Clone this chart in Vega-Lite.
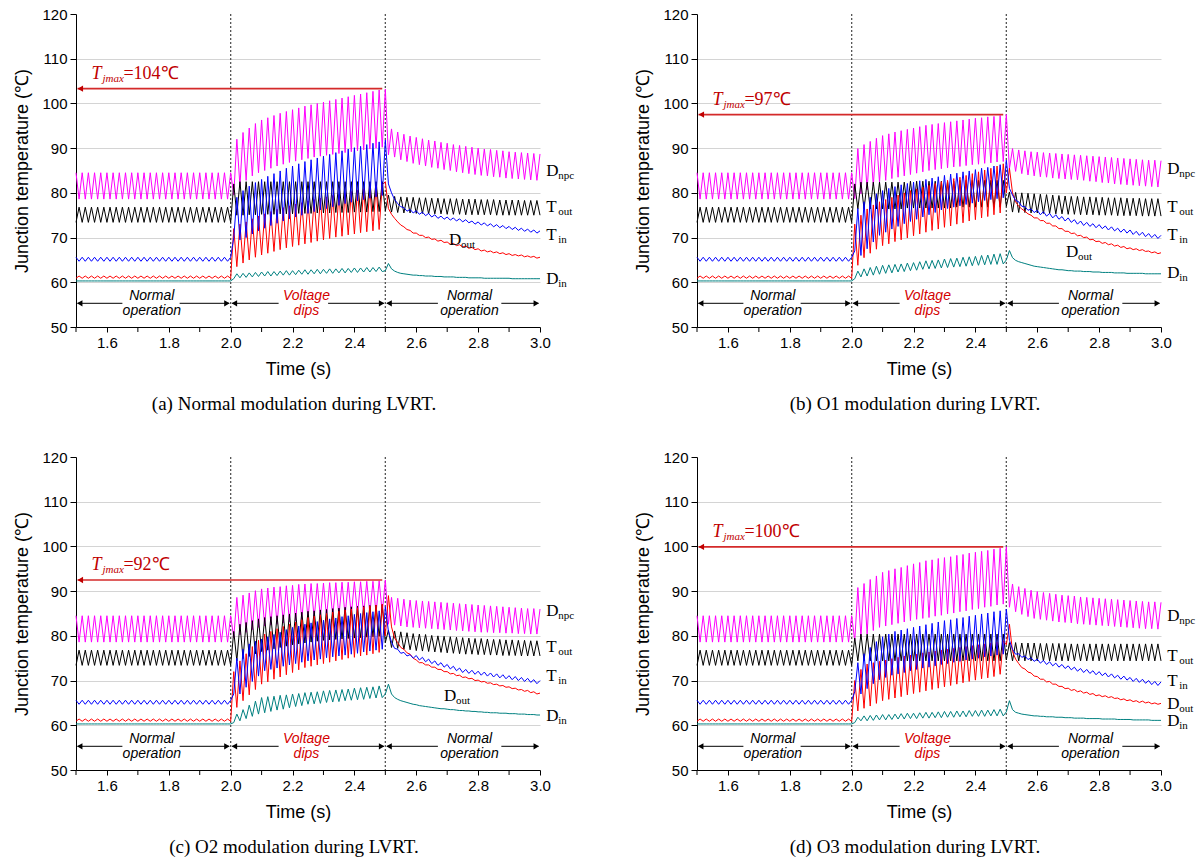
{
"$schema":"https://vega.github.io/schema/vega-lite/v6.json",
"background":"white",
"padding":{"left":13,"top":7,"right":5,"bottom":5},
"config":{"view":{"stroke":null},
"axis":{"labelFont":"Liberation Sans","labelFontSize":15,"labelColor":"#000","titleFont":"Liberation Sans","titleFontSize":18,"titleFontWeight":"normal","titleColor":"#000","domainColor":"#000","tickColor":"#000","grid":false},
"axisX":{"labelOverlap":false,"labelFlush":false}},
"datasets":{
"normal":[
{"t":1.50,"Dnpc":84.5,"Tout":73.4,"Tin":65.6,"Dout":60.9,"Din":60.3},{"t":1.51,"Dnpc":78.6,"Tout":76.8,"Tin":64.7,"Dout":61.4,"Din":60.3},
{"t":1.52,"Dnpc":84.5,"Tout":73.4,"Tin":65.6,"Dout":60.9,"Din":60.3},{"t":1.53,"Dnpc":78.6,"Tout":76.8,"Tin":64.7,"Dout":61.4,"Din":60.3},
{"t":1.54,"Dnpc":84.5,"Tout":73.4,"Tin":65.6,"Dout":60.9,"Din":60.3},{"t":1.55,"Dnpc":78.6,"Tout":76.8,"Tin":64.7,"Dout":61.4,"Din":60.3},
{"t":1.56,"Dnpc":84.5,"Tout":73.4,"Tin":65.6,"Dout":60.9,"Din":60.3},{"t":1.57,"Dnpc":78.6,"Tout":76.8,"Tin":64.7,"Dout":61.4,"Din":60.3},
{"t":1.58,"Dnpc":84.5,"Tout":73.4,"Tin":65.6,"Dout":60.9,"Din":60.3},{"t":1.59,"Dnpc":78.6,"Tout":76.8,"Tin":64.7,"Dout":61.4,"Din":60.3},
{"t":1.60,"Dnpc":84.5,"Tout":73.4,"Tin":65.6,"Dout":60.9,"Din":60.3},{"t":1.61,"Dnpc":78.6,"Tout":76.8,"Tin":64.7,"Dout":61.4,"Din":60.3},
{"t":1.62,"Dnpc":84.5,"Tout":73.4,"Tin":65.6,"Dout":60.9,"Din":60.3},{"t":1.63,"Dnpc":78.6,"Tout":76.8,"Tin":64.7,"Dout":61.4,"Din":60.3},
{"t":1.64,"Dnpc":84.5,"Tout":73.4,"Tin":65.6,"Dout":60.9,"Din":60.3},{"t":1.65,"Dnpc":78.6,"Tout":76.8,"Tin":64.7,"Dout":61.4,"Din":60.3},
{"t":1.66,"Dnpc":84.5,"Tout":73.4,"Tin":65.6,"Dout":60.9,"Din":60.3},{"t":1.67,"Dnpc":78.6,"Tout":76.8,"Tin":64.7,"Dout":61.4,"Din":60.3},
{"t":1.68,"Dnpc":84.5,"Tout":73.4,"Tin":65.6,"Dout":60.9,"Din":60.3},{"t":1.69,"Dnpc":78.6,"Tout":76.8,"Tin":64.7,"Dout":61.4,"Din":60.3},
{"t":1.70,"Dnpc":84.5,"Tout":73.4,"Tin":65.6,"Dout":60.9,"Din":60.3},{"t":1.71,"Dnpc":78.6,"Tout":76.8,"Tin":64.7,"Dout":61.4,"Din":60.3},
{"t":1.72,"Dnpc":84.5,"Tout":73.4,"Tin":65.6,"Dout":60.9,"Din":60.3},{"t":1.73,"Dnpc":78.6,"Tout":76.8,"Tin":64.7,"Dout":61.4,"Din":60.3},
{"t":1.74,"Dnpc":84.5,"Tout":73.4,"Tin":65.6,"Dout":60.9,"Din":60.3},{"t":1.75,"Dnpc":78.6,"Tout":76.8,"Tin":64.7,"Dout":61.4,"Din":60.3},
{"t":1.76,"Dnpc":84.5,"Tout":73.4,"Tin":65.6,"Dout":60.9,"Din":60.3},{"t":1.77,"Dnpc":78.6,"Tout":76.8,"Tin":64.7,"Dout":61.4,"Din":60.3},
{"t":1.78,"Dnpc":84.5,"Tout":73.4,"Tin":65.6,"Dout":60.9,"Din":60.3},{"t":1.79,"Dnpc":78.6,"Tout":76.8,"Tin":64.7,"Dout":61.4,"Din":60.3},
{"t":1.80,"Dnpc":84.5,"Tout":73.4,"Tin":65.6,"Dout":60.9,"Din":60.3},{"t":1.81,"Dnpc":78.6,"Tout":76.8,"Tin":64.7,"Dout":61.4,"Din":60.3},
{"t":1.82,"Dnpc":84.5,"Tout":73.4,"Tin":65.6,"Dout":60.9,"Din":60.3},{"t":1.83,"Dnpc":78.6,"Tout":76.8,"Tin":64.7,"Dout":61.4,"Din":60.3},
{"t":1.84,"Dnpc":84.5,"Tout":73.4,"Tin":65.6,"Dout":60.9,"Din":60.3},{"t":1.85,"Dnpc":78.6,"Tout":76.8,"Tin":64.7,"Dout":61.4,"Din":60.3},
{"t":1.86,"Dnpc":84.5,"Tout":73.4,"Tin":65.6,"Dout":60.9,"Din":60.3},{"t":1.87,"Dnpc":78.6,"Tout":76.8,"Tin":64.7,"Dout":61.4,"Din":60.3},
{"t":1.88,"Dnpc":84.5,"Tout":73.4,"Tin":65.6,"Dout":60.9,"Din":60.3},{"t":1.89,"Dnpc":78.6,"Tout":76.8,"Tin":64.7,"Dout":61.4,"Din":60.3},
{"t":1.90,"Dnpc":84.5,"Tout":73.4,"Tin":65.6,"Dout":60.9,"Din":60.3},{"t":1.91,"Dnpc":78.6,"Tout":76.8,"Tin":64.7,"Dout":61.4,"Din":60.3},
{"t":1.92,"Dnpc":84.5,"Tout":73.4,"Tin":65.6,"Dout":60.9,"Din":60.3},{"t":1.93,"Dnpc":78.6,"Tout":76.8,"Tin":64.7,"Dout":61.4,"Din":60.3},
{"t":1.94,"Dnpc":84.5,"Tout":73.4,"Tin":65.6,"Dout":60.9,"Din":60.3},{"t":1.95,"Dnpc":78.6,"Tout":76.8,"Tin":64.7,"Dout":61.4,"Din":60.3},
{"t":1.96,"Dnpc":84.5,"Tout":73.4,"Tin":65.6,"Dout":60.9,"Din":60.3},{"t":1.97,"Dnpc":78.6,"Tout":76.8,"Tin":64.7,"Dout":61.4,"Din":60.3},
{"t":1.98,"Dnpc":84.5,"Tout":73.4,"Tin":65.6,"Dout":60.9,"Din":60.3},{"t":1.99,"Dnpc":78.6,"Tout":76.8,"Tin":64.7,"Dout":61.4,"Din":60.3},
{"t":2.00,"Dnpc":84.5,"Tout":73.4,"Tin":65.6,"Dout":60.9,"Din":60.3}],
"a":[
{"t":2.00,"Dnpc":84.5,"Tout":73.4,"Tin":65.6,"Dout":60.9,"Din":60.3},
{"t":2.01,"Dnpc":79.5,"Tout":82.0,"Tin":70.0,"Dout":72.0,"Din":60.8},
{"t":2.02,"Dnpc":92.0,"Tout":75.0,"Tin":79.0,"Dout":63.5,"Din":61.9},
{"t":2.03,"Dnpc":81.5,"Tout":82.5,"Tin":69.5,"Dout":73.0,"Din":61.0},
{"t":2.04,"Dnpc":93.5,"Tout":75.0,"Tin":80.5,"Dout":64.3,"Din":62.0},
{"t":2.05,"Dnpc":82.8,"Tout":82.5,"Tin":70.0,"Dout":73.5,"Din":61.1},
{"t":2.06,"Dnpc":94.5,"Tout":75.1,"Tin":81.5,"Dout":65.0,"Din":62.1},
{"t":2.07,"Dnpc":83.8,"Tout":82.5,"Tin":70.8,"Dout":74.2,"Din":61.2},
{"t":2.08,"Dnpc":95.5,"Tout":75.1,"Tin":82.3,"Dout":65.6,"Din":62.2},
{"t":2.09,"Dnpc":84.5,"Tout":82.5,"Tin":71.5,"Dout":74.8,"Din":61.3},
{"t":2.10,"Dnpc":96.3,"Tout":75.2,"Tin":83.0,"Dout":66.1,"Din":62.3},
{"t":2.11,"Dnpc":85.0,"Tout":82.5,"Tin":72.1,"Dout":75.3,"Din":61.4},
{"t":2.12,"Dnpc":96.8,"Tout":75.2,"Tin":83.7,"Dout":66.5,"Din":62.4},
{"t":2.13,"Dnpc":85.5,"Tout":82.5,"Tin":72.7,"Dout":75.8,"Din":61.4},
{"t":2.14,"Dnpc":97.3,"Tout":75.2,"Tin":84.3,"Dout":66.9,"Din":62.4},
{"t":2.15,"Dnpc":86.0,"Tout":82.5,"Tin":73.2,"Dout":76.3,"Din":61.5},
{"t":2.16,"Dnpc":97.8,"Tout":75.3,"Tin":84.9,"Dout":67.3,"Din":62.5},
{"t":2.17,"Dnpc":86.4,"Tout":82.5,"Tin":73.7,"Dout":76.7,"Din":61.6},
{"t":2.18,"Dnpc":98.2,"Tout":75.3,"Tin":85.5,"Dout":67.7,"Din":62.6},
{"t":2.19,"Dnpc":86.8,"Tout":82.5,"Tin":74.2,"Dout":77.1,"Din":61.6},
{"t":2.20,"Dnpc":98.6,"Tout":75.3,"Tin":86.0,"Dout":68.0,"Din":62.6},
{"t":2.21,"Dnpc":87.1,"Tout":82.5,"Tin":74.6,"Dout":77.5,"Din":61.7},
{"t":2.22,"Dnpc":99.0,"Tout":75.4,"Tin":86.5,"Dout":68.3,"Din":62.7},
{"t":2.23,"Dnpc":87.4,"Tout":82.5,"Tin":75.0,"Dout":77.8,"Din":61.8},
{"t":2.24,"Dnpc":99.4,"Tout":75.4,"Tin":87.0,"Dout":68.6,"Din":62.8},
{"t":2.25,"Dnpc":87.7,"Tout":82.5,"Tin":75.4,"Dout":78.2,"Din":61.8},
{"t":2.26,"Dnpc":99.7,"Tout":75.4,"Tin":87.4,"Dout":68.9,"Din":62.8},
{"t":2.27,"Dnpc":88.0,"Tout":82.5,"Tin":75.8,"Dout":78.5,"Din":61.9},
{"t":2.28,"Dnpc":100.0,"Tout":75.5,"Tin":87.8,"Dout":69.2,"Din":62.9},
{"t":2.29,"Dnpc":88.2,"Tout":82.5,"Tin":76.2,"Dout":78.8,"Din":61.9},
{"t":2.30,"Dnpc":100.3,"Tout":75.5,"Tin":88.2,"Dout":69.5,"Din":62.9},
{"t":2.31,"Dnpc":88.4,"Tout":82.5,"Tin":76.5,"Dout":79.1,"Din":62.0},
{"t":2.32,"Dnpc":100.6,"Tout":75.5,"Tin":88.6,"Dout":69.8,"Din":63.0},
{"t":2.33,"Dnpc":88.6,"Tout":82.5,"Tin":76.9,"Dout":79.4,"Din":62.0},
{"t":2.34,"Dnpc":100.9,"Tout":75.6,"Tin":89.0,"Dout":70.1,"Din":63.0},
{"t":2.35,"Dnpc":88.8,"Tout":82.5,"Tin":77.2,"Dout":79.7,"Din":62.1},
{"t":2.36,"Dnpc":101.2,"Tout":75.6,"Tin":89.4,"Dout":70.3,"Din":63.1},
{"t":2.37,"Dnpc":89.0,"Tout":82.5,"Tin":77.6,"Dout":80.0,"Din":62.1},
{"t":2.38,"Dnpc":101.5,"Tout":75.6,"Tin":89.8,"Dout":70.6,"Din":63.1},
{"t":2.39,"Dnpc":89.2,"Tout":82.5,"Tin":77.9,"Dout":80.3,"Din":62.2},
{"t":2.40,"Dnpc":101.8,"Tout":75.7,"Tin":90.1,"Dout":70.8,"Din":63.2},
{"t":2.41,"Dnpc":89.4,"Tout":82.5,"Tin":78.2,"Dout":80.6,"Din":62.2},
{"t":2.42,"Dnpc":102.1,"Tout":75.7,"Tin":90.4,"Dout":71.1,"Din":63.2},
{"t":2.43,"Dnpc":89.6,"Tout":82.5,"Tin":78.5,"Dout":80.9,"Din":62.3},
{"t":2.44,"Dnpc":102.4,"Tout":75.7,"Tin":90.8,"Dout":71.3,"Din":63.3},
{"t":2.45,"Dnpc":89.8,"Tout":82.5,"Tin":78.8,"Dout":81.2,"Din":62.3},
{"t":2.46,"Dnpc":102.7,"Tout":75.8,"Tin":91.1,"Dout":71.5,"Din":63.3},
{"t":2.47,"Dnpc":90.0,"Tout":82.5,"Tin":79.1,"Dout":81.5,"Din":62.4},
{"t":2.48,"Dnpc":103.0,"Tout":75.8,"Tin":91.4,"Dout":71.8,"Din":63.4},
{"t":2.49,"Dnpc":90.2,"Tout":82.5,"Tin":79.4,"Dout":81.8,"Din":62.4},
{"t":2.50,"Dnpc":103.2,"Tout":76.0,"Tin":91.8,"Dout":82.5,"Din":62.6},
{"t":2.51,"Dnpc":88.5,"Tout":79.5,"Tin":82.0,"Dout":76.5,"Din":64.2},
{"t":2.52,"Dnpc":94.3,"Tout":75.7,"Tin":80.0,"Dout":75.2,"Din":63.0},
{"t":2.53,"Dnpc":88.0,"Tout":79.2,"Tin":78.5,"Dout":74.3,"Din":62.5},
{"t":2.54,"Dnpc":93.6,"Tout":75.6,"Tin":77.6,"Dout":73.5,"Din":62.2},
{"t":2.55,"Dnpc":87.4,"Tout":79.1,"Tin":76.9,"Dout":72.8,"Din":62.0},
{"t":2.56,"Dnpc":93.1,"Tout":75.5,"Tin":76.7,"Dout":72.4,"Din":61.9},
{"t":2.57,"Dnpc":87.0,"Tout":79.0,"Tin":75.9,"Dout":71.8,"Din":61.8},
{"t":2.58,"Dnpc":92.7,"Tout":75.5,"Tin":76.3,"Dout":71.6,"Din":61.7},
{"t":2.59,"Dnpc":86.6,"Tout":79.0,"Tin":75.5,"Dout":71.0,"Din":61.6},
{"t":2.60,"Dnpc":92.4,"Tout":75.4,"Tin":76.0,"Dout":71.0,"Din":61.6},
{"t":2.61,"Dnpc":86.3,"Tout":78.9,"Tin":75.2,"Dout":70.5,"Din":61.5},
{"t":2.62,"Dnpc":92.1,"Tout":75.4,"Tin":75.7,"Dout":70.5,"Din":61.5},
{"t":2.63,"Dnpc":86.0,"Tout":78.9,"Tin":74.9,"Dout":70.0,"Din":61.4},
{"t":2.64,"Dnpc":91.8,"Tout":75.3,"Tin":75.4,"Dout":70.1,"Din":61.4},
{"t":2.65,"Dnpc":85.7,"Tout":78.8,"Tin":74.6,"Dout":69.6,"Din":61.4},
{"t":2.66,"Dnpc":91.6,"Tout":75.3,"Tin":75.1,"Dout":69.7,"Din":61.3},
{"t":2.67,"Dnpc":85.5,"Tout":78.8,"Tin":74.3,"Dout":69.2,"Din":61.3},
{"t":2.68,"Dnpc":91.3,"Tout":75.3,"Tin":74.8,"Dout":69.4,"Din":61.3},
{"t":2.69,"Dnpc":85.2,"Tout":78.7,"Tin":74.1,"Dout":68.9,"Din":61.2},
{"t":2.70,"Dnpc":91.1,"Tout":75.2,"Tin":74.6,"Dout":69.0,"Din":61.2},
{"t":2.71,"Dnpc":85.0,"Tout":78.7,"Tin":73.9,"Dout":68.5,"Din":61.2},
{"t":2.72,"Dnpc":90.8,"Tout":75.2,"Tin":74.4,"Dout":68.7,"Din":61.2},
{"t":2.73,"Dnpc":84.7,"Tout":78.7,"Tin":73.7,"Dout":68.2,"Din":61.1},
{"t":2.74,"Dnpc":90.6,"Tout":75.2,"Tin":74.2,"Dout":68.4,"Din":61.1},
{"t":2.75,"Dnpc":84.5,"Tout":78.6,"Tin":73.5,"Dout":67.9,"Din":61.1},
{"t":2.76,"Dnpc":90.4,"Tout":75.1,"Tin":74.0,"Dout":68.1,"Din":61.1},
{"t":2.77,"Dnpc":84.3,"Tout":78.6,"Tin":73.3,"Dout":67.6,"Din":61.0},
{"t":2.78,"Dnpc":90.2,"Tout":75.1,"Tin":73.7,"Dout":67.8,"Din":61.0},
{"t":2.79,"Dnpc":84.1,"Tout":78.6,"Tin":73.0,"Dout":67.3,"Din":61.0},
{"t":2.80,"Dnpc":90.0,"Tout":75.1,"Tin":73.5,"Dout":67.5,"Din":61.0},
{"t":2.81,"Dnpc":83.9,"Tout":78.5,"Tin":72.8,"Dout":67.0,"Din":61.0},
{"t":2.82,"Dnpc":89.8,"Tout":75.1,"Tin":73.3,"Dout":67.2,"Din":60.9},
{"t":2.83,"Dnpc":83.8,"Tout":78.5,"Tin":72.6,"Dout":66.8,"Din":60.9},
{"t":2.84,"Dnpc":89.7,"Tout":75.1,"Tin":73.1,"Dout":67.0,"Din":60.9},
{"t":2.85,"Dnpc":83.6,"Tout":78.5,"Tin":72.4,"Dout":66.6,"Din":60.9},
{"t":2.86,"Dnpc":89.5,"Tout":75.0,"Tin":72.9,"Dout":66.8,"Din":60.9},
{"t":2.87,"Dnpc":83.5,"Tout":78.4,"Tin":72.2,"Dout":66.4,"Din":60.9},
{"t":2.88,"Dnpc":89.4,"Tout":75.0,"Tin":72.7,"Dout":66.6,"Din":60.9},
{"t":2.89,"Dnpc":83.3,"Tout":78.4,"Tin":72.0,"Dout":66.2,"Din":60.9},
{"t":2.90,"Dnpc":89.2,"Tout":75.0,"Tin":72.5,"Dout":66.4,"Din":60.9},
{"t":2.91,"Dnpc":83.2,"Tout":78.4,"Tin":71.8,"Dout":66.0,"Din":60.8},
{"t":2.92,"Dnpc":89.1,"Tout":75.0,"Tin":72.3,"Dout":66.2,"Din":60.8},
{"t":2.93,"Dnpc":83.1,"Tout":78.4,"Tin":71.6,"Dout":65.9,"Din":60.8},
{"t":2.94,"Dnpc":89.0,"Tout":75.0,"Tin":72.1,"Dout":66.1,"Din":60.8},
{"t":2.95,"Dnpc":83.0,"Tout":78.3,"Tin":71.4,"Dout":65.7,"Din":60.8},
{"t":2.96,"Dnpc":88.9,"Tout":75.0,"Tin":71.9,"Dout":65.9,"Din":60.8},
{"t":2.97,"Dnpc":82.9,"Tout":78.3,"Tin":71.2,"Dout":65.6,"Din":60.8},
{"t":2.98,"Dnpc":88.8,"Tout":75.0,"Tin":71.7,"Dout":65.8,"Din":60.8},
{"t":2.99,"Dnpc":82.8,"Tout":78.3,"Tin":71.0,"Dout":65.4,"Din":60.8},
{"t":3.00,"Dnpc":88.7,"Tout":75.0,"Tin":71.5,"Dout":65.6,"Din":60.8}],
"b":[
{"t":2.00,"Dnpc":84.5,"Tout":73.4,"Tin":65.6,"Dout":60.9,"Din":60.3},
{"t":2.01,"Dnpc":78.7,"Tout":82.0,"Tin":67.0,"Dout":73.0,"Din":60.8},
{"t":2.02,"Dnpc":89.9,"Tout":76.4,"Tin":76.5,"Dout":63.8,"Din":62.5},
{"t":2.03,"Dnpc":79.8,"Tout":82.4,"Tin":66.0,"Dout":75.0,"Din":61.2},
{"t":2.04,"Dnpc":90.8,"Tout":76.4,"Tin":78.0,"Dout":65.5,"Din":63.0},
{"t":2.05,"Dnpc":80.7,"Tout":82.4,"Tin":67.5,"Dout":76.4,"Din":61.4},
{"t":2.06,"Dnpc":91.5,"Tout":76.4,"Tin":79.0,"Dout":66.5,"Din":63.3},
{"t":2.07,"Dnpc":81.6,"Tout":82.4,"Tin":69.0,"Dout":77.3,"Din":61.6},
{"t":2.08,"Dnpc":92.2,"Tout":76.4,"Tin":79.8,"Dout":67.4,"Din":63.6},
{"t":2.09,"Dnpc":82.4,"Tout":82.4,"Tin":70.5,"Dout":78.0,"Din":61.8},
{"t":2.10,"Dnpc":92.8,"Tout":76.4,"Tin":80.5,"Dout":68.2,"Din":63.8},
{"t":2.11,"Dnpc":82.8,"Tout":82.4,"Tin":71.2,"Dout":78.5,"Din":62.0},
{"t":2.12,"Dnpc":93.2,"Tout":76.4,"Tin":81.0,"Dout":68.6,"Din":63.9},
{"t":2.13,"Dnpc":83.2,"Tout":82.4,"Tin":71.9,"Dout":79.0,"Din":62.1},
{"t":2.14,"Dnpc":93.6,"Tout":76.4,"Tin":81.4,"Dout":69.1,"Din":64.0},
{"t":2.15,"Dnpc":83.5,"Tout":82.4,"Tin":72.5,"Dout":79.5,"Din":62.3},
{"t":2.16,"Dnpc":93.9,"Tout":76.4,"Tin":81.8,"Dout":69.5,"Din":64.1},
{"t":2.17,"Dnpc":83.8,"Tout":82.4,"Tin":73.1,"Dout":80.0,"Din":62.4},
{"t":2.18,"Dnpc":94.2,"Tout":76.6,"Tin":82.1,"Dout":69.9,"Din":64.3},
{"t":2.19,"Dnpc":84.1,"Tout":82.6,"Tin":73.6,"Dout":80.5,"Din":62.6},
{"t":2.20,"Dnpc":94.5,"Tout":76.6,"Tin":82.4,"Dout":70.4,"Din":64.4},
{"t":2.21,"Dnpc":84.4,"Tout":82.6,"Tin":74.1,"Dout":80.9,"Din":62.7},
{"t":2.22,"Dnpc":94.8,"Tout":76.6,"Tin":82.7,"Dout":70.8,"Din":64.6},
{"t":2.23,"Dnpc":84.7,"Tout":82.6,"Tin":74.6,"Dout":81.3,"Din":62.9},
{"t":2.24,"Dnpc":95.1,"Tout":76.6,"Tin":83.0,"Dout":71.2,"Din":64.8},
{"t":2.25,"Dnpc":85.0,"Tout":82.6,"Tin":75.1,"Dout":81.7,"Din":63.0},
{"t":2.26,"Dnpc":95.3,"Tout":76.6,"Tin":83.3,"Dout":71.6,"Din":64.9},
{"t":2.27,"Dnpc":85.2,"Tout":82.6,"Tin":75.6,"Dout":82.1,"Din":63.1},
{"t":2.28,"Dnpc":95.5,"Tout":76.6,"Tin":83.6,"Dout":71.9,"Din":65.0},
{"t":2.29,"Dnpc":85.4,"Tout":82.6,"Tin":76.2,"Dout":82.5,"Din":63.2},
{"t":2.30,"Dnpc":95.7,"Tout":76.6,"Tin":83.9,"Dout":72.3,"Din":65.2},
{"t":2.31,"Dnpc":85.6,"Tout":82.6,"Tin":76.5,"Dout":82.8,"Din":63.3},
{"t":2.32,"Dnpc":95.9,"Tout":76.6,"Tin":84.2,"Dout":72.6,"Din":65.3},
{"t":2.33,"Dnpc":85.8,"Tout":82.6,"Tin":76.8,"Dout":83.2,"Din":63.4},
{"t":2.34,"Dnpc":96.1,"Tout":76.8,"Tin":84.4,"Dout":73.0,"Din":65.4},
{"t":2.35,"Dnpc":85.9,"Tout":82.8,"Tin":77.1,"Dout":83.5,"Din":63.5},
{"t":2.36,"Dnpc":96.3,"Tout":76.8,"Tin":84.7,"Dout":73.3,"Din":65.6},
{"t":2.37,"Dnpc":86.1,"Tout":82.8,"Tin":77.4,"Dout":83.9,"Din":63.6},
{"t":2.38,"Dnpc":96.5,"Tout":76.8,"Tin":84.9,"Dout":73.7,"Din":65.7},
{"t":2.39,"Dnpc":86.3,"Tout":82.8,"Tin":77.7,"Dout":84.3,"Din":63.7},
{"t":2.40,"Dnpc":96.7,"Tout":76.8,"Tin":85.2,"Dout":74.0,"Din":65.8},
{"t":2.41,"Dnpc":86.4,"Tout":82.8,"Tin":78.0,"Dout":84.7,"Din":63.8},
{"t":2.42,"Dnpc":96.8,"Tout":76.8,"Tin":85.5,"Dout":74.4,"Din":66.0},
{"t":2.43,"Dnpc":86.6,"Tout":82.8,"Tin":78.3,"Dout":85.1,"Din":63.9},
{"t":2.44,"Dnpc":97.0,"Tout":76.8,"Tin":85.7,"Dout":74.7,"Din":66.1},
{"t":2.45,"Dnpc":86.7,"Tout":82.8,"Tin":78.5,"Dout":85.5,"Din":64.0},
{"t":2.46,"Dnpc":97.1,"Tout":76.8,"Tin":86.0,"Dout":75.1,"Din":66.3},
{"t":2.47,"Dnpc":86.9,"Tout":82.8,"Tin":78.7,"Dout":86.0,"Din":64.0},
{"t":2.48,"Dnpc":97.3,"Tout":76.8,"Tin":86.3,"Dout":75.5,"Din":66.4},
{"t":2.49,"Dnpc":87.0,"Tout":82.8,"Tin":78.9,"Dout":86.5,"Din":64.1},
{"t":2.50,"Dnpc":97.5,"Tout":77.0,"Tin":87.3,"Dout":80.0,"Din":65.0},
{"t":2.51,"Dnpc":85.4,"Tout":80.2,"Tin":81.0,"Dout":85.5,"Din":67.1},
{"t":2.52,"Dnpc":89.9,"Tout":75.7,"Tin":79.5,"Dout":80.0,"Din":65.5},
{"t":2.53,"Dnpc":84.8,"Tout":80.1,"Tin":78.3,"Dout":78.0,"Din":64.9},
{"t":2.54,"Dnpc":89.6,"Tout":75.6,"Tin":78.0,"Dout":77.0,"Din":64.6},
{"t":2.55,"Dnpc":84.3,"Tout":80.0,"Tin":77.0,"Dout":76.4,"Din":64.4},
{"t":2.56,"Dnpc":89.4,"Tout":75.6,"Tin":76.9,"Dout":75.9,"Din":64.2},
{"t":2.57,"Dnpc":84.0,"Tout":79.9,"Tin":76.1,"Dout":75.3,"Din":64.0},
{"t":2.58,"Dnpc":89.2,"Tout":75.5,"Tin":76.4,"Dout":75.0,"Din":63.8},
{"t":2.59,"Dnpc":83.8,"Tout":79.8,"Tin":75.6,"Dout":74.4,"Din":63.6},
{"t":2.60,"Dnpc":89.1,"Tout":75.5,"Tin":76.1,"Dout":74.4,"Din":63.5},
{"t":2.61,"Dnpc":83.6,"Tout":79.7,"Tin":75.1,"Dout":73.8,"Din":63.4},
{"t":2.62,"Dnpc":89.0,"Tout":75.4,"Tin":75.8,"Dout":73.8,"Din":63.3},
{"t":2.63,"Dnpc":83.5,"Tout":79.6,"Tin":74.8,"Dout":73.2,"Din":63.2},
{"t":2.64,"Dnpc":88.9,"Tout":75.4,"Tin":75.4,"Dout":73.2,"Din":63.1},
{"t":2.65,"Dnpc":83.3,"Tout":79.5,"Tin":74.4,"Dout":72.6,"Din":63.0},
{"t":2.66,"Dnpc":88.8,"Tout":75.3,"Tin":75.1,"Dout":72.6,"Din":62.9},
{"t":2.67,"Dnpc":83.2,"Tout":79.4,"Tin":74.1,"Dout":72.0,"Din":62.8},
{"t":2.68,"Dnpc":88.7,"Tout":75.3,"Tin":74.7,"Dout":72.0,"Din":62.8},
{"t":2.69,"Dnpc":83.1,"Tout":79.3,"Tin":73.7,"Dout":71.4,"Din":62.7},
{"t":2.70,"Dnpc":88.6,"Tout":75.2,"Tin":74.4,"Dout":71.4,"Din":62.6},
{"t":2.71,"Dnpc":83.0,"Tout":79.2,"Tin":73.4,"Dout":70.9,"Din":62.6},
{"t":2.72,"Dnpc":88.5,"Tout":75.2,"Tin":74.0,"Dout":71.0,"Din":62.5},
{"t":2.73,"Dnpc":82.9,"Tout":79.2,"Tin":73.0,"Dout":70.4,"Din":62.5},
{"t":2.74,"Dnpc":88.4,"Tout":75.1,"Tin":73.7,"Dout":70.5,"Din":62.5},
{"t":2.75,"Dnpc":82.8,"Tout":79.1,"Tin":72.7,"Dout":70.0,"Din":62.4},
{"t":2.76,"Dnpc":88.3,"Tout":75.1,"Tin":73.4,"Dout":70.1,"Din":62.4},
{"t":2.77,"Dnpc":82.6,"Tout":79.1,"Tin":72.5,"Dout":69.5,"Din":62.4},
{"t":2.78,"Dnpc":88.2,"Tout":75.1,"Tin":73.1,"Dout":69.6,"Din":62.3},
{"t":2.79,"Dnpc":82.5,"Tout":79.0,"Tin":72.2,"Dout":69.1,"Din":62.3},
{"t":2.80,"Dnpc":88.1,"Tout":75.0,"Tin":72.9,"Dout":69.2,"Din":62.3},
{"t":2.81,"Dnpc":82.3,"Tout":79.0,"Tin":72.0,"Dout":68.7,"Din":62.2},
{"t":2.82,"Dnpc":88.0,"Tout":75.0,"Tin":72.6,"Dout":68.9,"Din":62.2},
{"t":2.83,"Dnpc":82.2,"Tout":78.9,"Tin":71.7,"Dout":68.4,"Din":62.2},
{"t":2.84,"Dnpc":87.9,"Tout":75.0,"Tin":72.4,"Dout":68.6,"Din":62.2},
{"t":2.85,"Dnpc":82.0,"Tout":78.9,"Tin":71.5,"Dout":68.1,"Din":62.1},
{"t":2.86,"Dnpc":87.8,"Tout":74.9,"Tin":72.1,"Dout":68.3,"Din":62.1},
{"t":2.87,"Dnpc":81.9,"Tout":78.9,"Tin":71.2,"Dout":67.8,"Din":62.1},
{"t":2.88,"Dnpc":87.7,"Tout":74.9,"Tin":71.9,"Dout":68.0,"Din":62.1},
{"t":2.89,"Dnpc":81.8,"Tout":78.8,"Tin":71.0,"Dout":67.5,"Din":62.0},
{"t":2.90,"Dnpc":87.6,"Tout":74.9,"Tin":71.7,"Dout":67.7,"Din":62.0},
{"t":2.91,"Dnpc":81.7,"Tout":78.8,"Tin":70.7,"Dout":67.3,"Din":62.0},
{"t":2.92,"Dnpc":87.5,"Tout":74.9,"Tin":71.4,"Dout":67.5,"Din":62.0},
{"t":2.93,"Dnpc":81.6,"Tout":78.8,"Tin":70.5,"Dout":67.1,"Din":62.0},
{"t":2.94,"Dnpc":87.4,"Tout":74.8,"Tin":71.2,"Dout":67.3,"Din":62.0},
{"t":2.95,"Dnpc":81.5,"Tout":78.7,"Tin":70.2,"Dout":66.9,"Din":61.9},
{"t":2.96,"Dnpc":87.3,"Tout":74.8,"Tin":70.9,"Dout":67.0,"Din":61.9},
{"t":2.97,"Dnpc":81.4,"Tout":78.7,"Tin":70.0,"Dout":66.6,"Din":61.9},
{"t":2.98,"Dnpc":87.3,"Tout":74.8,"Tin":70.7,"Dout":66.8,"Din":61.9},
{"t":2.99,"Dnpc":81.3,"Tout":78.7,"Tin":69.8,"Dout":66.4,"Din":61.9},
{"t":3.00,"Dnpc":87.2,"Tout":74.8,"Tin":70.5,"Dout":66.6,"Din":61.9}],
"c":[
{"t":2.00,"Dnpc":84.5,"Tout":73.4,"Tin":65.6,"Dout":60.9,"Din":60.3},
{"t":2.01,"Dnpc":79.6,"Tout":81.0,"Tin":67.0,"Dout":72.0,"Din":60.6},
{"t":2.02,"Dnpc":88.6,"Tout":74.4,"Tin":75.0,"Dout":64.0,"Din":62.5},
{"t":2.03,"Dnpc":80.2,"Tout":82.6,"Tin":67.0,"Dout":74.4,"Din":61.0},
{"t":2.04,"Dnpc":89.1,"Tout":74.9,"Tin":77.0,"Dout":65.5,"Din":63.5},
{"t":2.05,"Dnpc":80.8,"Tout":83.0,"Tin":68.5,"Dout":76.0,"Din":61.5},
{"t":2.06,"Dnpc":89.6,"Tout":75.4,"Tin":78.2,"Dout":66.8,"Din":64.5},
{"t":2.07,"Dnpc":81.4,"Tout":83.4,"Tin":69.8,"Dout":77.6,"Din":62.0},
{"t":2.08,"Dnpc":90.1,"Tout":76.0,"Tin":78.8,"Dout":68.0,"Din":65.4},
{"t":2.09,"Dnpc":81.9,"Tout":83.8,"Tin":71.0,"Dout":79.0,"Din":62.5},
{"t":2.10,"Dnpc":90.5,"Tout":76.5,"Tin":79.3,"Dout":69.2,"Din":66.2},
{"t":2.11,"Dnpc":82.2,"Tout":84.1,"Tin":72.2,"Dout":80.4,"Din":62.8},
{"t":2.12,"Dnpc":90.7,"Tout":76.8,"Tin":79.8,"Dout":69.7,"Din":66.4},
{"t":2.13,"Dnpc":82.4,"Tout":84.3,"Tin":72.5,"Dout":81.0,"Din":63.1},
{"t":2.14,"Dnpc":90.9,"Tout":77.1,"Tin":80.3,"Dout":70.3,"Din":66.5},
{"t":2.15,"Dnpc":82.6,"Tout":84.5,"Tin":72.8,"Dout":81.6,"Din":63.4},
{"t":2.16,"Dnpc":91.0,"Tout":77.4,"Tin":80.8,"Dout":70.8,"Din":66.7},
{"t":2.17,"Dnpc":82.9,"Tout":84.7,"Tin":73.2,"Dout":82.1,"Din":63.6},
{"t":2.18,"Dnpc":91.2,"Tout":77.7,"Tin":81.4,"Dout":71.3,"Din":66.8},
{"t":2.19,"Dnpc":83.1,"Tout":84.9,"Tin":73.5,"Dout":82.6,"Din":63.9},
{"t":2.20,"Dnpc":91.3,"Tout":78.0,"Tin":81.9,"Dout":71.8,"Din":67.0},
{"t":2.21,"Dnpc":83.3,"Tout":85.1,"Tin":73.8,"Dout":83.1,"Din":64.2},
{"t":2.22,"Dnpc":91.5,"Tout":78.2,"Tin":82.2,"Dout":72.4,"Din":67.1},
{"t":2.23,"Dnpc":83.6,"Tout":85.3,"Tin":74.1,"Dout":83.6,"Din":64.4},
{"t":2.24,"Dnpc":91.6,"Tout":78.4,"Tin":82.6,"Dout":72.9,"Din":67.3},
{"t":2.25,"Dnpc":83.8,"Tout":85.5,"Tin":74.4,"Dout":84.1,"Din":64.7},
{"t":2.26,"Dnpc":91.7,"Tout":78.6,"Tin":82.9,"Dout":73.2,"Din":67.4},
{"t":2.27,"Dnpc":83.9,"Tout":85.6,"Tin":74.6,"Dout":84.4,"Din":64.8},
{"t":2.28,"Dnpc":91.7,"Tout":78.8,"Tin":83.2,"Dout":73.5,"Din":67.5},
{"t":2.29,"Dnpc":84.0,"Tout":85.8,"Tin":74.8,"Dout":84.7,"Din":64.9},
{"t":2.30,"Dnpc":91.8,"Tout":79.0,"Tin":83.5,"Dout":73.8,"Din":67.7},
{"t":2.31,"Dnpc":84.2,"Tout":85.9,"Tin":75.1,"Dout":85.0,"Din":65.1},
{"t":2.32,"Dnpc":91.9,"Tout":79.1,"Tin":83.8,"Dout":74.1,"Din":67.8},
{"t":2.33,"Dnpc":84.3,"Tout":86.1,"Tin":75.3,"Dout":85.3,"Din":65.2},
{"t":2.34,"Dnpc":91.9,"Tout":79.2,"Tin":84.0,"Dout":74.4,"Din":67.9},
{"t":2.35,"Dnpc":84.4,"Tout":86.2,"Tin":75.5,"Dout":85.5,"Din":65.3},
{"t":2.36,"Dnpc":92.0,"Tout":79.3,"Tin":84.3,"Dout":74.7,"Din":68.0},
{"t":2.37,"Dnpc":84.5,"Tout":86.4,"Tin":75.7,"Dout":85.8,"Din":65.5},
{"t":2.38,"Dnpc":92.0,"Tout":79.4,"Tin":84.5,"Dout":75.0,"Din":68.1},
{"t":2.39,"Dnpc":84.6,"Tout":86.5,"Tin":75.9,"Dout":86.0,"Din":65.6},
{"t":2.40,"Dnpc":92.1,"Tout":79.5,"Tin":84.8,"Dout":75.2,"Din":68.3},
{"t":2.41,"Dnpc":84.7,"Tout":86.6,"Tin":76.1,"Dout":86.3,"Din":65.7},
{"t":2.42,"Dnpc":92.1,"Tout":79.6,"Tin":85.0,"Dout":75.5,"Din":68.4},
{"t":2.43,"Dnpc":84.8,"Tout":86.7,"Tin":76.4,"Dout":86.5,"Din":65.8},
{"t":2.44,"Dnpc":92.2,"Tout":79.7,"Tin":85.2,"Dout":75.7,"Din":68.5},
{"t":2.45,"Dnpc":84.9,"Tout":86.8,"Tin":76.6,"Dout":86.7,"Din":66.0},
{"t":2.46,"Dnpc":92.2,"Tout":79.8,"Tin":85.4,"Dout":76.0,"Din":68.6},
{"t":2.47,"Dnpc":85.1,"Tout":86.9,"Tin":76.8,"Dout":86.9,"Din":66.1},
{"t":2.48,"Dnpc":92.3,"Tout":79.9,"Tin":85.6,"Dout":76.3,"Din":68.8},
{"t":2.49,"Dnpc":85.2,"Tout":87.0,"Tin":77.0,"Dout":87.1,"Din":66.2},
{"t":2.50,"Dnpc":92.5,"Tout":78.5,"Tin":86.5,"Dout":80.0,"Din":67.0},
{"t":2.51,"Dnpc":82.6,"Tout":81.3,"Tin":81.0,"Dout":89.0,"Din":69.2},
{"t":2.52,"Dnpc":88.6,"Tout":77.4,"Tin":78.6,"Dout":82.0,"Din":67.0},
{"t":2.53,"Dnpc":82.4,"Tout":81.1,"Tin":77.2,"Dout":79.5,"Din":66.2},
{"t":2.54,"Dnpc":88.4,"Tout":77.2,"Tin":77.0,"Dout":78.5,"Din":65.8},
{"t":2.55,"Dnpc":82.2,"Tout":80.9,"Tin":76.1,"Dout":77.4,"Din":65.5},
{"t":2.56,"Dnpc":88.2,"Tout":77.0,"Tin":76.3,"Dout":77.0,"Din":65.3},
{"t":2.57,"Dnpc":82.0,"Tout":80.7,"Tin":75.5,"Dout":76.2,"Din":65.1},
{"t":2.58,"Dnpc":88.0,"Tout":76.9,"Tin":75.8,"Dout":75.9,"Din":64.9},
{"t":2.59,"Dnpc":81.9,"Tout":80.5,"Tin":75.0,"Dout":75.0,"Din":64.7},
{"t":2.60,"Dnpc":87.9,"Tout":76.7,"Tin":75.6,"Dout":74.6,"Din":64.6},
{"t":2.61,"Dnpc":81.8,"Tout":80.4,"Tin":74.6,"Dout":74.0,"Din":64.4},
{"t":2.62,"Dnpc":87.8,"Tout":76.6,"Tin":75.2,"Dout":74.0,"Din":64.3},
{"t":2.63,"Dnpc":81.7,"Tout":80.3,"Tin":74.2,"Dout":73.5,"Din":64.2},
{"t":2.64,"Dnpc":87.7,"Tout":76.5,"Tin":74.8,"Dout":73.5,"Din":64.1},
{"t":2.65,"Dnpc":81.6,"Tout":80.1,"Tin":73.8,"Dout":73.0,"Din":64.0},
{"t":2.66,"Dnpc":87.6,"Tout":76.4,"Tin":74.4,"Dout":73.0,"Din":63.9},
{"t":2.67,"Dnpc":81.5,"Tout":80.0,"Tin":73.4,"Dout":72.5,"Din":63.8},
{"t":2.68,"Dnpc":87.5,"Tout":76.3,"Tin":74.0,"Dout":72.5,"Din":63.7},
{"t":2.69,"Dnpc":81.4,"Tout":79.9,"Tin":73.0,"Dout":72.0,"Din":63.7},
{"t":2.70,"Dnpc":87.4,"Tout":76.2,"Tin":73.6,"Dout":72.0,"Din":63.6},
{"t":2.71,"Dnpc":81.3,"Tout":79.8,"Tin":72.6,"Dout":71.5,"Din":63.5},
{"t":2.72,"Dnpc":87.3,"Tout":76.1,"Tin":73.2,"Dout":71.6,"Din":63.5},
{"t":2.73,"Dnpc":81.2,"Tout":79.7,"Tin":72.2,"Dout":71.1,"Din":63.4},
{"t":2.74,"Dnpc":87.2,"Tout":76.0,"Tin":72.8,"Dout":71.2,"Din":63.3},
{"t":2.75,"Dnpc":81.1,"Tout":79.6,"Tin":71.8,"Dout":70.7,"Din":63.3},
{"t":2.76,"Dnpc":87.1,"Tout":75.9,"Tin":72.5,"Dout":70.8,"Din":63.2},
{"t":2.77,"Dnpc":81.0,"Tout":79.5,"Tin":71.6,"Dout":70.4,"Din":63.2},
{"t":2.78,"Dnpc":87.0,"Tout":75.9,"Tin":72.3,"Dout":70.5,"Din":63.1},
{"t":2.79,"Dnpc":80.9,"Tout":79.4,"Tin":71.4,"Dout":70.0,"Din":63.1},
{"t":2.80,"Dnpc":86.9,"Tout":75.8,"Tin":72.1,"Dout":70.1,"Din":63.0},
{"t":2.81,"Dnpc":80.8,"Tout":79.4,"Tin":71.2,"Dout":69.7,"Din":63.0},
{"t":2.82,"Dnpc":86.8,"Tout":75.8,"Tin":71.9,"Dout":69.8,"Din":62.9},
{"t":2.83,"Dnpc":80.8,"Tout":79.3,"Tin":71.0,"Dout":69.4,"Din":62.9},
{"t":2.84,"Dnpc":86.7,"Tout":75.7,"Tin":71.7,"Dout":69.5,"Din":62.8},
{"t":2.85,"Dnpc":80.7,"Tout":79.2,"Tin":70.8,"Dout":69.1,"Din":62.8},
{"t":2.86,"Dnpc":86.6,"Tout":75.7,"Tin":71.5,"Dout":69.2,"Din":62.8},
{"t":2.87,"Dnpc":80.7,"Tout":79.2,"Tin":70.6,"Dout":68.8,"Din":62.7},
{"t":2.88,"Dnpc":86.5,"Tout":75.6,"Tin":71.3,"Dout":68.9,"Din":62.7},
{"t":2.89,"Dnpc":80.6,"Tout":79.1,"Tin":70.4,"Dout":68.5,"Din":62.7},
{"t":2.90,"Dnpc":86.4,"Tout":75.6,"Tin":71.1,"Dout":68.6,"Din":62.6},
{"t":2.91,"Dnpc":80.6,"Tout":79.1,"Tin":70.2,"Dout":68.2,"Din":62.6},
{"t":2.92,"Dnpc":86.3,"Tout":75.6,"Tin":70.9,"Dout":68.3,"Din":62.6},
{"t":2.93,"Dnpc":80.5,"Tout":79.0,"Tin":70.0,"Dout":67.9,"Din":62.5},
{"t":2.94,"Dnpc":86.2,"Tout":75.5,"Tin":70.7,"Dout":68.0,"Din":62.5},
{"t":2.95,"Dnpc":80.5,"Tout":79.0,"Tin":69.8,"Dout":67.6,"Din":62.5},
{"t":2.96,"Dnpc":86.1,"Tout":75.5,"Tin":70.5,"Dout":67.8,"Din":62.4},
{"t":2.97,"Dnpc":80.4,"Tout":78.9,"Tin":69.6,"Dout":67.3,"Din":62.4},
{"t":2.98,"Dnpc":86.1,"Tout":75.5,"Tin":70.2,"Dout":67.5,"Din":62.4},
{"t":2.99,"Dnpc":80.4,"Tout":78.9,"Tin":69.3,"Dout":67.0,"Din":62.3},
{"t":3.00,"Dnpc":86.0,"Tout":75.5,"Tin":70.0,"Dout":67.2,"Din":62.3}],
"d":[
{"t":2.00,"Dnpc":84.5,"Tout":73.4,"Tin":65.6,"Dout":60.9,"Din":60.3},
{"t":2.01,"Dnpc":78.9,"Tout":79.5,"Tin":67.5,"Dout":70.0,"Din":60.6},
{"t":2.02,"Dnpc":90.8,"Tout":74.4,"Tin":74.0,"Dout":63.2,"Din":61.8},
{"t":2.03,"Dnpc":79.7,"Tout":80.4,"Tin":67.0,"Dout":72.5,"Din":61.0},
{"t":2.04,"Dnpc":91.7,"Tout":74.4,"Tin":76.0,"Dout":63.8,"Din":62.1},
{"t":2.05,"Dnpc":80.4,"Tout":80.4,"Tin":68.2,"Dout":73.7,"Din":61.0},
{"t":2.06,"Dnpc":92.6,"Tout":74.4,"Tin":77.4,"Dout":64.3,"Din":62.2},
{"t":2.07,"Dnpc":81.2,"Tout":80.4,"Tin":69.3,"Dout":74.0,"Din":61.1},
{"t":2.08,"Dnpc":93.4,"Tout":74.4,"Tin":78.7,"Dout":64.9,"Din":62.3},
{"t":2.09,"Dnpc":81.9,"Tout":80.4,"Tin":70.2,"Dout":74.3,"Din":61.2},
{"t":2.10,"Dnpc":94.2,"Tout":74.4,"Tin":79.8,"Dout":65.5,"Din":62.4},
{"t":2.11,"Dnpc":82.2,"Tout":80.4,"Tin":70.7,"Dout":74.6,"Din":61.2},
{"t":2.12,"Dnpc":94.6,"Tout":74.4,"Tin":80.4,"Dout":65.8,"Din":62.4},
{"t":2.13,"Dnpc":82.5,"Tout":80.4,"Tin":71.2,"Dout":74.9,"Din":61.3},
{"t":2.14,"Dnpc":95.0,"Tout":74.4,"Tin":81.0,"Dout":66.1,"Din":62.5},
{"t":2.15,"Dnpc":82.8,"Tout":80.4,"Tin":71.5,"Dout":75.2,"Din":61.4},
{"t":2.16,"Dnpc":95.3,"Tout":74.4,"Tin":81.3,"Dout":66.4,"Din":62.6},
{"t":2.17,"Dnpc":83.1,"Tout":80.4,"Tin":71.8,"Dout":75.5,"Din":61.4},
{"t":2.18,"Dnpc":95.7,"Tout":74.4,"Tin":81.6,"Dout":66.8,"Din":62.7},
{"t":2.19,"Dnpc":83.4,"Tout":80.4,"Tin":72.2,"Dout":75.7,"Din":61.5},
{"t":2.20,"Dnpc":96.1,"Tout":74.4,"Tin":81.9,"Dout":67.1,"Din":62.7},
{"t":2.21,"Dnpc":83.7,"Tout":80.4,"Tin":72.5,"Dout":75.9,"Din":61.5},
{"t":2.22,"Dnpc":96.4,"Tout":74.4,"Tin":82.2,"Dout":67.4,"Din":62.8},
{"t":2.23,"Dnpc":83.9,"Tout":80.4,"Tin":72.8,"Dout":76.2,"Din":61.6},
{"t":2.24,"Dnpc":96.8,"Tout":74.4,"Tin":82.5,"Dout":67.7,"Din":62.9},
{"t":2.25,"Dnpc":84.1,"Tout":80.4,"Tin":73.0,"Dout":76.4,"Din":61.6},
{"t":2.26,"Dnpc":97.0,"Tout":74.4,"Tin":82.8,"Dout":68.0,"Din":62.9},
{"t":2.27,"Dnpc":84.4,"Tout":80.4,"Tin":73.3,"Dout":76.6,"Din":61.7},
{"t":2.28,"Dnpc":97.3,"Tout":74.4,"Tin":83.1,"Dout":68.3,"Din":63.0},
{"t":2.29,"Dnpc":84.6,"Tout":80.4,"Tin":73.6,"Dout":76.8,"Din":61.7},
{"t":2.30,"Dnpc":97.5,"Tout":74.4,"Tin":83.4,"Dout":68.6,"Din":63.1},
{"t":2.31,"Dnpc":84.9,"Tout":80.4,"Tin":73.8,"Dout":77.0,"Din":61.8},
{"t":2.32,"Dnpc":97.7,"Tout":74.4,"Tin":83.6,"Dout":68.9,"Din":63.1},
{"t":2.33,"Dnpc":85.1,"Tout":80.4,"Tin":74.1,"Dout":77.2,"Din":61.8},
{"t":2.34,"Dnpc":98.0,"Tout":74.4,"Tin":83.9,"Dout":69.2,"Din":63.2},
{"t":2.35,"Dnpc":85.4,"Tout":80.4,"Tin":74.3,"Dout":77.4,"Din":61.9},
{"t":2.36,"Dnpc":98.2,"Tout":74.4,"Tin":84.1,"Dout":69.5,"Din":63.2},
{"t":2.37,"Dnpc":85.6,"Tout":80.4,"Tin":74.6,"Dout":77.6,"Din":61.9},
{"t":2.38,"Dnpc":98.5,"Tout":74.4,"Tin":84.4,"Dout":69.8,"Din":63.3},
{"t":2.39,"Dnpc":85.9,"Tout":80.4,"Tin":74.8,"Dout":77.8,"Din":62.0},
{"t":2.40,"Dnpc":98.7,"Tout":74.4,"Tin":84.6,"Dout":70.1,"Din":63.3},
{"t":2.41,"Dnpc":86.1,"Tout":80.4,"Tin":75.0,"Dout":78.0,"Din":62.0},
{"t":2.42,"Dnpc":98.9,"Tout":74.4,"Tin":84.9,"Dout":70.4,"Din":63.4},
{"t":2.43,"Dnpc":86.4,"Tout":80.4,"Tin":75.3,"Dout":78.2,"Din":62.0},
{"t":2.44,"Dnpc":99.1,"Tout":74.4,"Tin":85.1,"Dout":70.6,"Din":63.4},
{"t":2.45,"Dnpc":86.6,"Tout":80.4,"Tin":75.5,"Dout":78.4,"Din":62.1},
{"t":2.46,"Dnpc":99.4,"Tout":74.4,"Tin":85.4,"Dout":70.9,"Din":63.5},
{"t":2.47,"Dnpc":86.9,"Tout":80.4,"Tin":75.7,"Dout":78.6,"Din":62.1},
{"t":2.48,"Dnpc":99.6,"Tout":74.4,"Tin":85.6,"Dout":71.4,"Din":63.6},
{"t":2.49,"Dnpc":87.1,"Tout":80.4,"Tin":75.9,"Dout":78.9,"Din":62.1},
{"t":2.50,"Dnpc":99.9,"Tout":74.6,"Tin":86.0,"Dout":78.0,"Din":63.0},
{"t":2.51,"Dnpc":86.4,"Tout":78.5,"Tin":79.0,"Dout":82.6,"Din":65.5},
{"t":2.52,"Dnpc":91.6,"Tout":74.4,"Tin":77.0,"Dout":76.5,"Din":63.5},
{"t":2.53,"Dnpc":85.4,"Tout":78.5,"Tin":75.9,"Dout":74.8,"Din":62.9},
{"t":2.54,"Dnpc":91.0,"Tout":74.4,"Tin":76.0,"Dout":73.8,"Din":62.7},
{"t":2.55,"Dnpc":84.8,"Tout":78.4,"Tin":75.2,"Dout":72.9,"Din":62.5},
{"t":2.56,"Dnpc":90.6,"Tout":74.4,"Tin":75.5,"Dout":72.6,"Din":62.4},
{"t":2.57,"Dnpc":84.3,"Tout":78.4,"Tin":74.7,"Dout":71.9,"Din":62.3},
{"t":2.58,"Dnpc":90.2,"Tout":74.4,"Tin":75.1,"Dout":71.7,"Din":62.2},
{"t":2.59,"Dnpc":83.9,"Tout":78.4,"Tin":74.3,"Dout":71.0,"Din":62.1},
{"t":2.60,"Dnpc":89.9,"Tout":74.4,"Tin":74.8,"Dout":70.9,"Din":62.1},
{"t":2.61,"Dnpc":83.7,"Tout":78.3,"Tin":73.9,"Dout":70.3,"Din":62.0},
{"t":2.62,"Dnpc":89.7,"Tout":74.4,"Tin":74.5,"Dout":70.3,"Din":62.0},
{"t":2.63,"Dnpc":83.5,"Tout":78.3,"Tin":73.6,"Dout":69.7,"Din":61.9},
{"t":2.64,"Dnpc":89.5,"Tout":74.4,"Tin":74.2,"Dout":69.8,"Din":61.9},
{"t":2.65,"Dnpc":83.3,"Tout":78.3,"Tin":73.3,"Dout":69.2,"Din":61.9},
{"t":2.66,"Dnpc":89.3,"Tout":74.4,"Tin":73.9,"Dout":69.2,"Din":61.8},
{"t":2.67,"Dnpc":83.1,"Tout":78.3,"Tin":73.0,"Dout":68.7,"Din":61.8},
{"t":2.68,"Dnpc":89.1,"Tout":74.4,"Tin":73.6,"Dout":68.7,"Din":61.8},
{"t":2.69,"Dnpc":83.0,"Tout":78.3,"Tin":72.7,"Dout":68.2,"Din":61.7},
{"t":2.70,"Dnpc":89.0,"Tout":74.4,"Tin":73.3,"Dout":68.3,"Din":61.7},
{"t":2.71,"Dnpc":82.9,"Tout":78.2,"Tin":72.4,"Dout":67.8,"Din":61.7},
{"t":2.72,"Dnpc":88.9,"Tout":74.4,"Tin":73.0,"Dout":68.0,"Din":61.6},
{"t":2.73,"Dnpc":82.7,"Tout":78.2,"Tin":72.1,"Dout":67.5,"Din":61.6},
{"t":2.74,"Dnpc":88.7,"Tout":74.4,"Tin":72.7,"Dout":67.7,"Din":61.6},
{"t":2.75,"Dnpc":82.6,"Tout":78.2,"Tin":71.8,"Dout":67.2,"Din":61.6},
{"t":2.76,"Dnpc":88.6,"Tout":74.4,"Tin":72.5,"Dout":67.4,"Din":61.5},
{"t":2.77,"Dnpc":82.5,"Tout":78.2,"Tin":71.6,"Dout":66.9,"Din":61.5},
{"t":2.78,"Dnpc":88.5,"Tout":74.4,"Tin":72.2,"Dout":67.1,"Din":61.5},
{"t":2.79,"Dnpc":82.4,"Tout":78.2,"Tin":71.3,"Dout":66.6,"Din":61.5},
{"t":2.80,"Dnpc":88.4,"Tout":74.4,"Tin":72.0,"Dout":66.8,"Din":61.5},
{"t":2.81,"Dnpc":82.3,"Tout":78.2,"Tin":71.1,"Dout":66.4,"Din":61.4},
{"t":2.82,"Dnpc":88.3,"Tout":74.4,"Tin":71.7,"Dout":66.6,"Din":61.4},
{"t":2.83,"Dnpc":82.2,"Tout":78.2,"Tin":70.8,"Dout":66.2,"Din":61.4},
{"t":2.84,"Dnpc":88.2,"Tout":74.4,"Tin":71.5,"Dout":66.4,"Din":61.4},
{"t":2.85,"Dnpc":82.1,"Tout":78.2,"Tin":70.6,"Dout":66.0,"Din":61.4},
{"t":2.86,"Dnpc":88.1,"Tout":74.4,"Tin":71.2,"Dout":66.1,"Din":61.3},
{"t":2.87,"Dnpc":82.0,"Tout":78.2,"Tin":70.3,"Dout":65.7,"Din":61.3},
{"t":2.88,"Dnpc":88.0,"Tout":74.4,"Tin":71.0,"Dout":65.9,"Din":61.3},
{"t":2.89,"Dnpc":81.9,"Tout":78.2,"Tin":70.1,"Dout":65.5,"Din":61.3},
{"t":2.90,"Dnpc":87.9,"Tout":74.4,"Tin":70.7,"Dout":65.7,"Din":61.3},
{"t":2.91,"Dnpc":81.8,"Tout":78.2,"Tin":69.8,"Dout":65.3,"Din":61.2},
{"t":2.92,"Dnpc":87.8,"Tout":74.4,"Tin":70.5,"Dout":65.5,"Din":61.2},
{"t":2.93,"Dnpc":81.7,"Tout":78.2,"Tin":69.6,"Dout":65.1,"Din":61.2},
{"t":2.94,"Dnpc":87.7,"Tout":74.4,"Tin":70.3,"Dout":65.4,"Din":61.2},
{"t":2.95,"Dnpc":81.6,"Tout":78.2,"Tin":69.4,"Dout":65.0,"Din":61.2},
{"t":2.96,"Dnpc":87.6,"Tout":74.4,"Tin":70.0,"Dout":65.2,"Din":61.2},
{"t":2.97,"Dnpc":81.6,"Tout":78.2,"Tin":69.1,"Dout":64.8,"Din":61.1},
{"t":2.98,"Dnpc":87.6,"Tout":74.4,"Tin":69.8,"Dout":65.0,"Din":61.1},
{"t":2.99,"Dnpc":81.5,"Tout":78.2,"Tin":68.9,"Dout":64.7,"Din":61.1},
{"t":3.00,"Dnpc":87.5,"Tout":74.4,"Tin":69.7,"Dout":64.9,"Din":61.1}],
"vlines":[{"t":2.0},{"t":2.5}],
"minor":[{"t":1.5},{"t":1.7},{"t":1.9},{"t":2.1},{"t":2.3},{"t":2.5},{"t":2.7},{"t":2.9}],
"spans":[{"x1":1.505,"x2":1.65,"y":55.3},{"x1":1.835,"x2":1.995,"y":55.3},{"x1":2.005,"x2":2.155,"y":55.3},{"x1":2.315,"x2":2.495,"y":55.3},{"x1":2.505,"x2":2.67,"y":55.3},{"x1":2.875,"x2":2.995,"y":55.3}],
"heads":[{"x":1.512,"y":55.3,"dir":"left"},{"x":1.988,"y":55.3,"dir":"right"},{"x":2.012,"y":55.3,"dir":"left"},{"x":2.488,"y":55.3,"dir":"right"},{"x":2.512,"y":55.3,"dir":"left"},{"x":2.988,"y":55.3,"dir":"right"}],
"phases":[{"x":1.745,"y":57.0,"text":"Normal","phase":"op"},{"x":1.745,"y":53.6,"text":"operation","phase":"op"},{"x":2.245,"y":57.0,"text":"Voltage","phase":"dip"},{"x":2.245,"y":53.6,"text":"dips","phase":"dip"},{"x":2.772,"y":57.0,"text":"Normal","phase":"op"},{"x":2.772,"y":53.6,"text":"operation","phase":"op"}],
"tj":[{"p":"a","y":103.3,"x1":1.505,"x2":2.49,"head":1.514,"tx":1.55,"label":"=104℃"},{"p":"b","y":97.5,"x1":1.505,"x2":2.49,"head":1.514,"tx":1.55,"label":"=97℃"},{"p":"c","y":92.5,"x1":1.505,"x2":2.49,"head":1.514,"tx":1.55,"label":"=92℃"},{"p":"d","y":99.9,"x1":1.505,"x2":2.49,"head":1.514,"tx":1.55,"label":"=100℃"}],
"names":[
{"p":"a","main":"D","sub":"npc","x":3.02,"y":84.9},{"p":"a","main":"T","sub":"out","x":3.02,"y":76.9},{"p":"a","main":"T","sub":"in","x":3.02,"y":70.6},{"p":"a","main":"D","sub":"out","x":2.706,"y":69.5},{"p":"a","main":"D","sub":"in","x":3.02,"y":60.8},
{"p":"b","main":"D","sub":"npc","x":3.02,"y":85.4},{"p":"b","main":"T","sub":"out","x":3.02,"y":76.9},{"p":"b","main":"T","sub":"in","x":3.02,"y":70.6},{"p":"b","main":"D","sub":"out","x":2.693,"y":66.8},{"p":"b","main":"D","sub":"in","x":3.02,"y":62.1},
{"p":"c","main":"D","sub":"npc","x":3.02,"y":85.6},{"p":"c","main":"T","sub":"out","x":3.02,"y":77.4},{"p":"c","main":"T","sub":"in","x":3.02,"y":71.1},{"p":"c","main":"D","sub":"out","x":2.69,"y":66.6},{"p":"c","main":"D","sub":"in","x":3.02,"y":62.1},
{"p":"d","main":"D","sub":"npc","x":3.02,"y":84.5},{"p":"d","main":"T","sub":"out","x":3.02,"y":75.5},{"p":"d","main":"T","sub":"in","x":3.02,"y":69.9},{"p":"d","main":"D","sub":"out","x":3.02,"y":64.7},{"p":"d","main":"D","sub":"in","x":3.02,"y":60.9}]
},
"columns":2,
"spacing":{"row":36,"column":59},
"concat":[
{"width":464,"height":313,
"title":{"text":"(a) Normal modulation during LVRT.","orient":"bottom","font":"Liberation Serif","fontSize":19,"fontWeight":"normal","color":"#000","offset":17,"frame":"bounds","anchor":"middle"},
"layer":[
{"data":{"name":"vlines"},"mark":{"type":"rule","color":"#555","strokeDash":[2,2],"strokeWidth":1.3},
 "encoding":{"x":{"field":"t","type":"quantitative"}}},
{"data":{"name":"minor"},"mark":{"type":"rule","color":"#000","strokeWidth":1,"y2Offset":5},
 "encoding":{"x":{"field":"t","type":"quantitative"},"y":{"datum":50},"y2":{"datum":50}}},
{"data":{"name":"normal"},"transform":[{"fold":["Dnpc","Tout","Dout","Tin","Din"],"as":["series","temp"]}],
 "mark":{"type":"line","strokeWidth":1},
 "encoding":{"x":{"field":"t","type":"quantitative","scale":{"domain":[1.5,3.0],"nice":false,"zero":false},
  "axis":{"title":"Time (s)","values":[1.6,1.8,2.0,2.2,2.4,2.6,2.8,3.0],"format":".1f","labelOverlap":false,"labelFlush":false,"tickSize":5,"labelPadding":3,"titlePadding":10,"titleX":222}},
  "y":{"field":"temp","type":"quantitative","scale":{"domain":[50,120],"nice":false,"zero":false},
   "axis":{"title":"Junction temperature (℃)","values":[50,55,60,65,70,75,80,85,90,95,100,105,110,115,120],"labelExpr":"datum.value % 10 === 0 ? datum.label : ''","labelOverlap":false,"grid":true,"gridColor":"#d4d4d4","gridOpacity":{"condition":{"test":"datum.value % 10 === 0 && datum.value > 50 && datum.value < 120","value":1},"value":0},"tickSize":{"condition":{"test":"datum.value % 10 === 0","value":6},"value":3},"labelPadding":3,"titlePadding":10}},
  "color":{"field":"series","type":"nominal","scale":{"domain":["Dnpc","Tout","Dout","Tin","Din"],"range":["#ff00ff","#000000","#ff0000","#0000ff","#008080"]},"legend":null}}},
{"data":{"name":"a"},"transform":[{"fold":["Dnpc","Tout","Dout","Tin","Din"],"as":["series","temp"]}],
 "mark":{"type":"line","strokeWidth":1},
 "encoding":{"x":{"field":"t","type":"quantitative"},"y":{"field":"temp","type":"quantitative"},"color":{"field":"series","type":"nominal","legend":null}}},
{"data":{"name":"tj"},"transform":[{"filter":"datum.p === 'a'"}],"mark":{"type":"rule","color":"#d42a2a","strokeWidth":1.6},
 "encoding":{"x":{"field":"x1","type":"quantitative"},"x2":{"field":"x2"},"y":{"field":"y","type":"quantitative"}}},
{"data":{"name":"tj"},"transform":[{"filter":"datum.p === 'a'"}],"mark":{"type":"point","shape":"triangle-left","filled":true,"color":"#c00000","size":40,"opacity":1},
 "encoding":{"x":{"field":"head","type":"quantitative"},"y":{"field":"y","type":"quantitative"}}},
{"data":{"name":"tj"},"transform":[{"filter":"datum.p === 'a'"}],"mark":{"type":"text","text":"T","font":"Liberation Serif","fontStyle":"italic","fontSize":18,"color":"#c00000","align":"left","baseline":"middle","dy":-15},
 "encoding":{"x":{"field":"tx","type":"quantitative"},"y":{"field":"y","type":"quantitative"}}},
{"data":{"name":"tj"},"transform":[{"filter":"datum.p === 'a'"}],"mark":{"type":"text","text":"jmax","font":"Liberation Serif","fontStyle":"italic","fontSize":11,"color":"#c00000","align":"left","baseline":"middle","dx":11,"dy":-10},
 "encoding":{"x":{"field":"tx","type":"quantitative"},"y":{"field":"y","type":"quantitative"}}},
{"data":{"name":"tj"},"transform":[{"filter":"datum.p === 'a'"}],"mark":{"type":"text","font":"Liberation Serif","fontSize":18,"color":"#c00000","align":"left","baseline":"middle","dx":32,"dy":-15},
 "encoding":{"x":{"field":"tx","type":"quantitative"},"y":{"field":"y","type":"quantitative"},"text":{"field":"label"}}},
{"data":{"name":"spans"},"mark":{"type":"rule","color":"#000","strokeWidth":1},
 "encoding":{"x":{"field":"x1","type":"quantitative"},"x2":{"field":"x2"},"y":{"field":"y","type":"quantitative"}}},
{"data":{"name":"heads"},"mark":{"type":"point","filled":true,"color":"#000","size":40,"opacity":1},
 "encoding":{"x":{"field":"x","type":"quantitative"},"y":{"field":"y","type":"quantitative"},"shape":{"field":"dir","type":"nominal","scale":{"domain":["left","right"],"range":["triangle-left","triangle-right"]},"legend":null}}},
{"data":{"name":"phases"},"transform":[{"filter":"datum.phase === 'op'"}],"mark":{"type":"text","font":"Liberation Sans","fontStyle":"italic","fontSize":14,"color":"#000","align":"center","baseline":"middle"},
 "encoding":{"x":{"field":"x","type":"quantitative"},"y":{"field":"y","type":"quantitative"},"text":{"field":"text"}}},
{"data":{"name":"phases"},"transform":[{"filter":"datum.phase === 'dip'"}],"mark":{"type":"text","font":"Liberation Sans","fontStyle":"italic","fontSize":14,"color":"#d40000","align":"center","baseline":"middle"},
 "encoding":{"x":{"field":"x","type":"quantitative"},"y":{"field":"y","type":"quantitative"},"text":{"field":"text"}}},
{"data":{"name":"names"},"transform":[{"filter":"datum.p === 'a'"}],"mark":{"type":"text","font":"Liberation Serif","fontSize":17,"color":"#000","align":"left","baseline":"middle"},
 "encoding":{"x":{"field":"x","type":"quantitative"},"y":{"field":"y","type":"quantitative"},"text":{"field":"main"}}},
{"data":{"name":"names"},"transform":[{"filter":"datum.p === 'a'"}],"mark":{"type":"text","font":"Liberation Serif","fontSize":11,"color":"#000","align":"left","baseline":"middle","dx":12,"dy":5},
 "encoding":{"x":{"field":"x","type":"quantitative"},"y":{"field":"y","type":"quantitative"},"text":{"field":"sub"}}}
]},
{"width":464,"height":313,
"title":{"text":"(b) O1 modulation during LVRT.","orient":"bottom","font":"Liberation Serif","fontSize":19,"fontWeight":"normal","color":"#000","offset":17,"frame":"bounds","anchor":"middle"},
"layer":[
{"data":{"name":"vlines"},"mark":{"type":"rule","color":"#555","strokeDash":[2,2],"strokeWidth":1.3},
 "encoding":{"x":{"field":"t","type":"quantitative"}}},
{"data":{"name":"minor"},"mark":{"type":"rule","color":"#000","strokeWidth":1,"y2Offset":5},
 "encoding":{"x":{"field":"t","type":"quantitative"},"y":{"datum":50},"y2":{"datum":50}}},
{"data":{"name":"normal"},"transform":[{"fold":["Dnpc","Tout","Dout","Tin","Din"],"as":["series","temp"]}],
 "mark":{"type":"line","strokeWidth":1},
 "encoding":{"x":{"field":"t","type":"quantitative","scale":{"domain":[1.5,3.0],"nice":false,"zero":false},
  "axis":{"title":"Time (s)","values":[1.6,1.8,2.0,2.2,2.4,2.6,2.8,3.0],"format":".1f","labelOverlap":false,"labelFlush":false,"tickSize":5,"labelPadding":3,"titlePadding":10,"titleX":222}},
  "y":{"field":"temp","type":"quantitative","scale":{"domain":[50,120],"nice":false,"zero":false},
   "axis":{"title":"Junction temperature (℃)","values":[50,55,60,65,70,75,80,85,90,95,100,105,110,115,120],"labelExpr":"datum.value % 10 === 0 ? datum.label : ''","labelOverlap":false,"grid":true,"gridColor":"#d4d4d4","gridOpacity":{"condition":{"test":"datum.value % 10 === 0 && datum.value > 50 && datum.value < 120","value":1},"value":0},"tickSize":{"condition":{"test":"datum.value % 10 === 0","value":6},"value":3},"labelPadding":3,"titlePadding":10}},
  "color":{"field":"series","type":"nominal","scale":{"domain":["Dnpc","Tout","Dout","Tin","Din"],"range":["#ff00ff","#000000","#ff0000","#0000ff","#008080"]},"legend":null}}},
{"data":{"name":"b"},"transform":[{"fold":["Dnpc","Tout","Dout","Tin","Din"],"as":["series","temp"]}],
 "mark":{"type":"line","strokeWidth":1},
 "encoding":{"x":{"field":"t","type":"quantitative"},"y":{"field":"temp","type":"quantitative"},"color":{"field":"series","type":"nominal","legend":null}}},
{"data":{"name":"tj"},"transform":[{"filter":"datum.p === 'b'"}],"mark":{"type":"rule","color":"#d42a2a","strokeWidth":1.6},
 "encoding":{"x":{"field":"x1","type":"quantitative"},"x2":{"field":"x2"},"y":{"field":"y","type":"quantitative"}}},
{"data":{"name":"tj"},"transform":[{"filter":"datum.p === 'b'"}],"mark":{"type":"point","shape":"triangle-left","filled":true,"color":"#c00000","size":40,"opacity":1},
 "encoding":{"x":{"field":"head","type":"quantitative"},"y":{"field":"y","type":"quantitative"}}},
{"data":{"name":"tj"},"transform":[{"filter":"datum.p === 'b'"}],"mark":{"type":"text","text":"T","font":"Liberation Serif","fontStyle":"italic","fontSize":18,"color":"#c00000","align":"left","baseline":"middle","dy":-15},
 "encoding":{"x":{"field":"tx","type":"quantitative"},"y":{"field":"y","type":"quantitative"}}},
{"data":{"name":"tj"},"transform":[{"filter":"datum.p === 'b'"}],"mark":{"type":"text","text":"jmax","font":"Liberation Serif","fontStyle":"italic","fontSize":11,"color":"#c00000","align":"left","baseline":"middle","dx":11,"dy":-10},
 "encoding":{"x":{"field":"tx","type":"quantitative"},"y":{"field":"y","type":"quantitative"}}},
{"data":{"name":"tj"},"transform":[{"filter":"datum.p === 'b'"}],"mark":{"type":"text","font":"Liberation Serif","fontSize":18,"color":"#c00000","align":"left","baseline":"middle","dx":32,"dy":-15},
 "encoding":{"x":{"field":"tx","type":"quantitative"},"y":{"field":"y","type":"quantitative"},"text":{"field":"label"}}},
{"data":{"name":"spans"},"mark":{"type":"rule","color":"#000","strokeWidth":1},
 "encoding":{"x":{"field":"x1","type":"quantitative"},"x2":{"field":"x2"},"y":{"field":"y","type":"quantitative"}}},
{"data":{"name":"heads"},"mark":{"type":"point","filled":true,"color":"#000","size":40,"opacity":1},
 "encoding":{"x":{"field":"x","type":"quantitative"},"y":{"field":"y","type":"quantitative"},"shape":{"field":"dir","type":"nominal","scale":{"domain":["left","right"],"range":["triangle-left","triangle-right"]},"legend":null}}},
{"data":{"name":"phases"},"transform":[{"filter":"datum.phase === 'op'"}],"mark":{"type":"text","font":"Liberation Sans","fontStyle":"italic","fontSize":14,"color":"#000","align":"center","baseline":"middle"},
 "encoding":{"x":{"field":"x","type":"quantitative"},"y":{"field":"y","type":"quantitative"},"text":{"field":"text"}}},
{"data":{"name":"phases"},"transform":[{"filter":"datum.phase === 'dip'"}],"mark":{"type":"text","font":"Liberation Sans","fontStyle":"italic","fontSize":14,"color":"#d40000","align":"center","baseline":"middle"},
 "encoding":{"x":{"field":"x","type":"quantitative"},"y":{"field":"y","type":"quantitative"},"text":{"field":"text"}}},
{"data":{"name":"names"},"transform":[{"filter":"datum.p === 'b'"}],"mark":{"type":"text","font":"Liberation Serif","fontSize":17,"color":"#000","align":"left","baseline":"middle"},
 "encoding":{"x":{"field":"x","type":"quantitative"},"y":{"field":"y","type":"quantitative"},"text":{"field":"main"}}},
{"data":{"name":"names"},"transform":[{"filter":"datum.p === 'b'"}],"mark":{"type":"text","font":"Liberation Serif","fontSize":11,"color":"#000","align":"left","baseline":"middle","dx":12,"dy":5},
 "encoding":{"x":{"field":"x","type":"quantitative"},"y":{"field":"y","type":"quantitative"},"text":{"field":"sub"}}}
]},
{"width":464,"height":313,
"title":{"text":"(c) O2 modulation during LVRT.","orient":"bottom","font":"Liberation Serif","fontSize":19,"fontWeight":"normal","color":"#000","offset":17,"frame":"bounds","anchor":"middle"},
"layer":[
{"data":{"name":"vlines"},"mark":{"type":"rule","color":"#555","strokeDash":[2,2],"strokeWidth":1.3},
 "encoding":{"x":{"field":"t","type":"quantitative"}}},
{"data":{"name":"minor"},"mark":{"type":"rule","color":"#000","strokeWidth":1,"y2Offset":5},
 "encoding":{"x":{"field":"t","type":"quantitative"},"y":{"datum":50},"y2":{"datum":50}}},
{"data":{"name":"normal"},"transform":[{"fold":["Dnpc","Tout","Dout","Tin","Din"],"as":["series","temp"]}],
 "mark":{"type":"line","strokeWidth":1},
 "encoding":{"x":{"field":"t","type":"quantitative","scale":{"domain":[1.5,3.0],"nice":false,"zero":false},
  "axis":{"title":"Time (s)","values":[1.6,1.8,2.0,2.2,2.4,2.6,2.8,3.0],"format":".1f","labelOverlap":false,"labelFlush":false,"tickSize":5,"labelPadding":3,"titlePadding":10,"titleX":222}},
  "y":{"field":"temp","type":"quantitative","scale":{"domain":[50,120],"nice":false,"zero":false},
   "axis":{"title":"Junction temperature (℃)","values":[50,55,60,65,70,75,80,85,90,95,100,105,110,115,120],"labelExpr":"datum.value % 10 === 0 ? datum.label : ''","labelOverlap":false,"grid":true,"gridColor":"#d4d4d4","gridOpacity":{"condition":{"test":"datum.value % 10 === 0 && datum.value > 50 && datum.value < 120","value":1},"value":0},"tickSize":{"condition":{"test":"datum.value % 10 === 0","value":6},"value":3},"labelPadding":3,"titlePadding":10}},
  "color":{"field":"series","type":"nominal","scale":{"domain":["Dnpc","Tout","Dout","Tin","Din"],"range":["#ff00ff","#000000","#ff0000","#0000ff","#008080"]},"legend":null}}},
{"data":{"name":"c"},"transform":[{"fold":["Dnpc","Tout","Dout","Tin","Din"],"as":["series","temp"]}],
 "mark":{"type":"line","strokeWidth":1},
 "encoding":{"x":{"field":"t","type":"quantitative"},"y":{"field":"temp","type":"quantitative"},"color":{"field":"series","type":"nominal","legend":null}}},
{"data":{"name":"tj"},"transform":[{"filter":"datum.p === 'c'"}],"mark":{"type":"rule","color":"#d42a2a","strokeWidth":1.6},
 "encoding":{"x":{"field":"x1","type":"quantitative"},"x2":{"field":"x2"},"y":{"field":"y","type":"quantitative"}}},
{"data":{"name":"tj"},"transform":[{"filter":"datum.p === 'c'"}],"mark":{"type":"point","shape":"triangle-left","filled":true,"color":"#c00000","size":40,"opacity":1},
 "encoding":{"x":{"field":"head","type":"quantitative"},"y":{"field":"y","type":"quantitative"}}},
{"data":{"name":"tj"},"transform":[{"filter":"datum.p === 'c'"}],"mark":{"type":"text","text":"T","font":"Liberation Serif","fontStyle":"italic","fontSize":18,"color":"#c00000","align":"left","baseline":"middle","dy":-15},
 "encoding":{"x":{"field":"tx","type":"quantitative"},"y":{"field":"y","type":"quantitative"}}},
{"data":{"name":"tj"},"transform":[{"filter":"datum.p === 'c'"}],"mark":{"type":"text","text":"jmax","font":"Liberation Serif","fontStyle":"italic","fontSize":11,"color":"#c00000","align":"left","baseline":"middle","dx":11,"dy":-10},
 "encoding":{"x":{"field":"tx","type":"quantitative"},"y":{"field":"y","type":"quantitative"}}},
{"data":{"name":"tj"},"transform":[{"filter":"datum.p === 'c'"}],"mark":{"type":"text","font":"Liberation Serif","fontSize":18,"color":"#c00000","align":"left","baseline":"middle","dx":32,"dy":-15},
 "encoding":{"x":{"field":"tx","type":"quantitative"},"y":{"field":"y","type":"quantitative"},"text":{"field":"label"}}},
{"data":{"name":"spans"},"mark":{"type":"rule","color":"#000","strokeWidth":1},
 "encoding":{"x":{"field":"x1","type":"quantitative"},"x2":{"field":"x2"},"y":{"field":"y","type":"quantitative"}}},
{"data":{"name":"heads"},"mark":{"type":"point","filled":true,"color":"#000","size":40,"opacity":1},
 "encoding":{"x":{"field":"x","type":"quantitative"},"y":{"field":"y","type":"quantitative"},"shape":{"field":"dir","type":"nominal","scale":{"domain":["left","right"],"range":["triangle-left","triangle-right"]},"legend":null}}},
{"data":{"name":"phases"},"transform":[{"filter":"datum.phase === 'op'"}],"mark":{"type":"text","font":"Liberation Sans","fontStyle":"italic","fontSize":14,"color":"#000","align":"center","baseline":"middle"},
 "encoding":{"x":{"field":"x","type":"quantitative"},"y":{"field":"y","type":"quantitative"},"text":{"field":"text"}}},
{"data":{"name":"phases"},"transform":[{"filter":"datum.phase === 'dip'"}],"mark":{"type":"text","font":"Liberation Sans","fontStyle":"italic","fontSize":14,"color":"#d40000","align":"center","baseline":"middle"},
 "encoding":{"x":{"field":"x","type":"quantitative"},"y":{"field":"y","type":"quantitative"},"text":{"field":"text"}}},
{"data":{"name":"names"},"transform":[{"filter":"datum.p === 'c'"}],"mark":{"type":"text","font":"Liberation Serif","fontSize":17,"color":"#000","align":"left","baseline":"middle"},
 "encoding":{"x":{"field":"x","type":"quantitative"},"y":{"field":"y","type":"quantitative"},"text":{"field":"main"}}},
{"data":{"name":"names"},"transform":[{"filter":"datum.p === 'c'"}],"mark":{"type":"text","font":"Liberation Serif","fontSize":11,"color":"#000","align":"left","baseline":"middle","dx":12,"dy":5},
 "encoding":{"x":{"field":"x","type":"quantitative"},"y":{"field":"y","type":"quantitative"},"text":{"field":"sub"}}}
]},
{"width":464,"height":313,
"title":{"text":"(d) O3 modulation during LVRT.","orient":"bottom","font":"Liberation Serif","fontSize":19,"fontWeight":"normal","color":"#000","offset":17,"frame":"bounds","anchor":"middle"},
"layer":[
{"data":{"name":"vlines"},"mark":{"type":"rule","color":"#555","strokeDash":[2,2],"strokeWidth":1.3},
 "encoding":{"x":{"field":"t","type":"quantitative"}}},
{"data":{"name":"minor"},"mark":{"type":"rule","color":"#000","strokeWidth":1,"y2Offset":5},
 "encoding":{"x":{"field":"t","type":"quantitative"},"y":{"datum":50},"y2":{"datum":50}}},
{"data":{"name":"normal"},"transform":[{"fold":["Dnpc","Tout","Dout","Tin","Din"],"as":["series","temp"]}],
 "mark":{"type":"line","strokeWidth":1},
 "encoding":{"x":{"field":"t","type":"quantitative","scale":{"domain":[1.5,3.0],"nice":false,"zero":false},
  "axis":{"title":"Time (s)","values":[1.6,1.8,2.0,2.2,2.4,2.6,2.8,3.0],"format":".1f","labelOverlap":false,"labelFlush":false,"tickSize":5,"labelPadding":3,"titlePadding":10,"titleX":222}},
  "y":{"field":"temp","type":"quantitative","scale":{"domain":[50,120],"nice":false,"zero":false},
   "axis":{"title":"Junction temperature (℃)","values":[50,55,60,65,70,75,80,85,90,95,100,105,110,115,120],"labelExpr":"datum.value % 10 === 0 ? datum.label : ''","labelOverlap":false,"grid":true,"gridColor":"#d4d4d4","gridOpacity":{"condition":{"test":"datum.value % 10 === 0 && datum.value > 50 && datum.value < 120","value":1},"value":0},"tickSize":{"condition":{"test":"datum.value % 10 === 0","value":6},"value":3},"labelPadding":3,"titlePadding":10}},
  "color":{"field":"series","type":"nominal","scale":{"domain":["Dnpc","Tout","Dout","Tin","Din"],"range":["#ff00ff","#000000","#ff0000","#0000ff","#008080"]},"legend":null}}},
{"data":{"name":"d"},"transform":[{"fold":["Dnpc","Tout","Dout","Tin","Din"],"as":["series","temp"]}],
 "mark":{"type":"line","strokeWidth":1},
 "encoding":{"x":{"field":"t","type":"quantitative"},"y":{"field":"temp","type":"quantitative"},"color":{"field":"series","type":"nominal","legend":null}}},
{"data":{"name":"tj"},"transform":[{"filter":"datum.p === 'd'"}],"mark":{"type":"rule","color":"#d42a2a","strokeWidth":1.6},
 "encoding":{"x":{"field":"x1","type":"quantitative"},"x2":{"field":"x2"},"y":{"field":"y","type":"quantitative"}}},
{"data":{"name":"tj"},"transform":[{"filter":"datum.p === 'd'"}],"mark":{"type":"point","shape":"triangle-left","filled":true,"color":"#c00000","size":40,"opacity":1},
 "encoding":{"x":{"field":"head","type":"quantitative"},"y":{"field":"y","type":"quantitative"}}},
{"data":{"name":"tj"},"transform":[{"filter":"datum.p === 'd'"}],"mark":{"type":"text","text":"T","font":"Liberation Serif","fontStyle":"italic","fontSize":18,"color":"#c00000","align":"left","baseline":"middle","dy":-15},
 "encoding":{"x":{"field":"tx","type":"quantitative"},"y":{"field":"y","type":"quantitative"}}},
{"data":{"name":"tj"},"transform":[{"filter":"datum.p === 'd'"}],"mark":{"type":"text","text":"jmax","font":"Liberation Serif","fontStyle":"italic","fontSize":11,"color":"#c00000","align":"left","baseline":"middle","dx":11,"dy":-10},
 "encoding":{"x":{"field":"tx","type":"quantitative"},"y":{"field":"y","type":"quantitative"}}},
{"data":{"name":"tj"},"transform":[{"filter":"datum.p === 'd'"}],"mark":{"type":"text","font":"Liberation Serif","fontSize":18,"color":"#c00000","align":"left","baseline":"middle","dx":32,"dy":-15},
 "encoding":{"x":{"field":"tx","type":"quantitative"},"y":{"field":"y","type":"quantitative"},"text":{"field":"label"}}},
{"data":{"name":"spans"},"mark":{"type":"rule","color":"#000","strokeWidth":1},
 "encoding":{"x":{"field":"x1","type":"quantitative"},"x2":{"field":"x2"},"y":{"field":"y","type":"quantitative"}}},
{"data":{"name":"heads"},"mark":{"type":"point","filled":true,"color":"#000","size":40,"opacity":1},
 "encoding":{"x":{"field":"x","type":"quantitative"},"y":{"field":"y","type":"quantitative"},"shape":{"field":"dir","type":"nominal","scale":{"domain":["left","right"],"range":["triangle-left","triangle-right"]},"legend":null}}},
{"data":{"name":"phases"},"transform":[{"filter":"datum.phase === 'op'"}],"mark":{"type":"text","font":"Liberation Sans","fontStyle":"italic","fontSize":14,"color":"#000","align":"center","baseline":"middle"},
 "encoding":{"x":{"field":"x","type":"quantitative"},"y":{"field":"y","type":"quantitative"},"text":{"field":"text"}}},
{"data":{"name":"phases"},"transform":[{"filter":"datum.phase === 'dip'"}],"mark":{"type":"text","font":"Liberation Sans","fontStyle":"italic","fontSize":14,"color":"#d40000","align":"center","baseline":"middle"},
 "encoding":{"x":{"field":"x","type":"quantitative"},"y":{"field":"y","type":"quantitative"},"text":{"field":"text"}}},
{"data":{"name":"names"},"transform":[{"filter":"datum.p === 'd'"}],"mark":{"type":"text","font":"Liberation Serif","fontSize":17,"color":"#000","align":"left","baseline":"middle"},
 "encoding":{"x":{"field":"x","type":"quantitative"},"y":{"field":"y","type":"quantitative"},"text":{"field":"main"}}},
{"data":{"name":"names"},"transform":[{"filter":"datum.p === 'd'"}],"mark":{"type":"text","font":"Liberation Serif","fontSize":11,"color":"#000","align":"left","baseline":"middle","dx":12,"dy":5},
 "encoding":{"x":{"field":"x","type":"quantitative"},"y":{"field":"y","type":"quantitative"},"text":{"field":"sub"}}}
]}
]}
